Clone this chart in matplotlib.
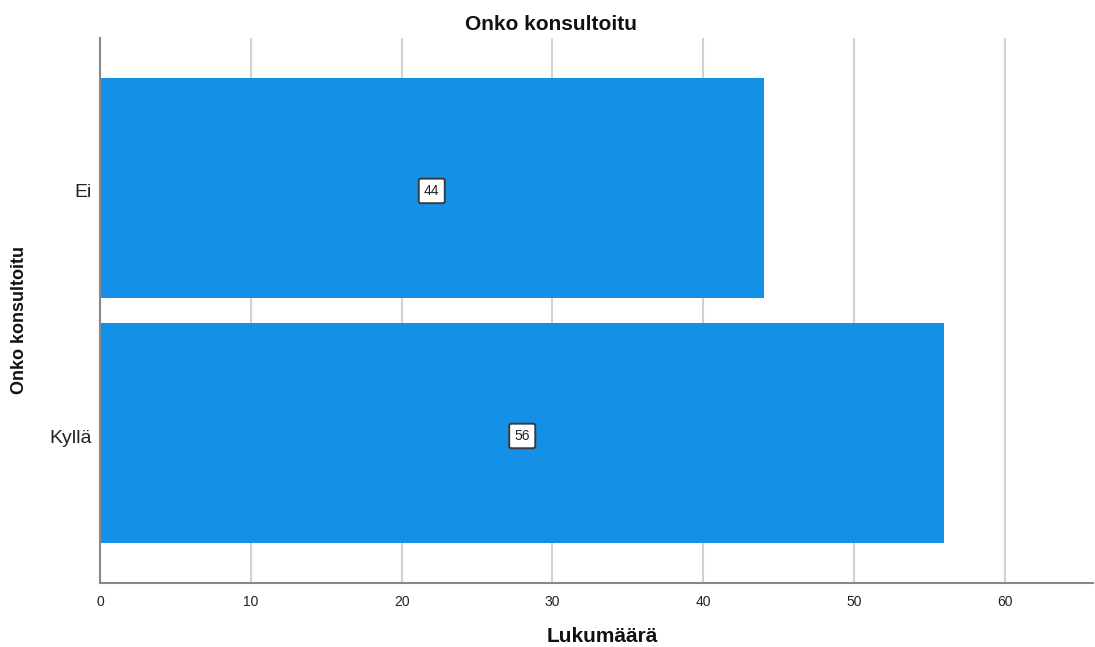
import matplotlib
matplotlib.use("Agg")
import matplotlib.pyplot as plt
from matplotlib.transforms import ScaledTranslation

# Counts per answer category
categories = ["Kyllä", "Ei"]
counts = [56, 44]

title = "Onko konsultoitu"
x_label = "Lukumäärä"
y_label = "Onko konsultoitu"
x_ticks = [0, 10, 20, 30, 40, 50, 60]

plt.rcParams["font.family"] = ["Liberation Sans", "DejaVu Sans"]

fig = plt.figure(figsize=(10.95, 6.47), dpi=100)
ax = fig.add_axes([100 / 1095, 1 - 583 / 647, 993 / 1095, 545 / 647])

bar_color = "#1490e6"
positions = list(range(len(categories)))
ax.barh(positions, counts, height=0.898, color=bar_color, linewidth=0, zorder=2)

# Value labels in small boxed tags at the middle of each bar
for pos, val in zip(positions, counts):
    ax.text(val / 2, pos - 0.012, f"{val}", ha="center", va="center",
            fontsize=10, color="#222222", zorder=4,
            bbox=dict(boxstyle="round,pad=0.38,rounding_size=0.15",
                      facecolor="white", edgecolor="#3a3a3a", linewidth=1.4))

ax.set_xlim(0, 65.85)
ax.set_ylim(-0.612, len(categories) - 1 + 0.612)

ax.set_xticks(x_ticks)
ax.set_xticklabels([str(t) for t in x_ticks])
ax.set_yticks(positions)
ax.set_yticklabels(categories)
ax.tick_params(axis="x", length=0, pad=9, labelsize=10, labelcolor="#222222")
ax.tick_params(axis="y", length=0, pad=6, labelsize=14, labelcolor="#222222")

# nudge category labels slightly downward
shift = ScaledTranslation(0, -3 / 100, fig.dpi_scale_trans)
for lbl in ax.get_yticklabels():
    lbl.set_transform(lbl.get_transform() + shift)

ax.grid(axis="x", color="#d2d2d2", linewidth=1.5, zorder=1)
ax.grid(axis="y", visible=False)
ax.set_axisbelow(True)

for side in ("top", "right"):
    ax.spines[side].set_visible(False)
for side in ("left", "bottom"):
    ax.spines[side].set_color("#888888")
    ax.spines[side].set_linewidth(1.5)
    ax.spines[side].set_zorder(3)

fig.text(551 / 1095, 1 - 25 / 647, title, ha="center", va="center",
         fontsize=15, fontweight="bold", color="#111111")
fig.text(602 / 1095, 1 - 637 / 647, x_label, ha="center", va="center",
         fontsize=15, fontweight="bold", color="#111111")
fig.text(20 / 1095, 1 - 320 / 647, y_label, ha="center", va="center",
         rotation=90, fontsize=13, fontweight="bold", color="#111111")

fig.savefig("out.png", dpi=100, facecolor="white")
